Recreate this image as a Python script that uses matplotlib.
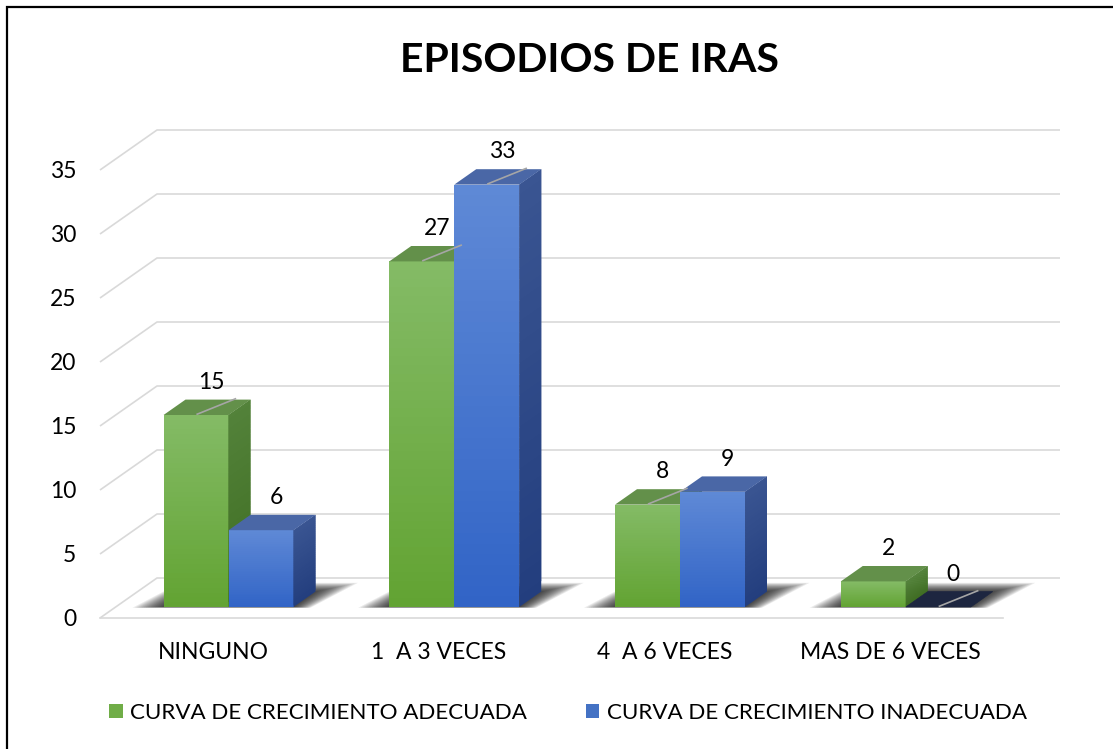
import numpy as np
import matplotlib
matplotlib.use('Agg')
import matplotlib.pyplot as plt
from matplotlib.patches import Polygon, Rectangle, Patch
from matplotlib.colors import to_rgb

# ---------------- data ----------------
categories = ['NINGUNO', '1  A 3 VECES', '4  A 6 VECES', 'MAS DE 6 VECES']
adecuada = [15, 27, 8, 2]
inadecuada = [6, 33, 9, 0]
series_names = ['CURVA DE CRECIMIENTO ADECUADA', 'CURVA DE CRECIMIENTO INADECUADA']
yticks = [0, 5, 10, 15, 20, 25, 30, 35]
title = 'EPISODIOS DE IRAS'

# ---------------- style ----------------
FONT = ['Lato', 'DejaVu Sans']
plt.rcParams['font.family'] = FONT

W, H = 1113, 749
fig = plt.figure(figsize=(W / 100, H / 100), dpi=100)
fig.patch.set_facecolor('white')

# front plane of the 3D box in pixels
L, R, B, T = 100, 1003, 618, 170
ax = fig.add_axes([L / W, 1 - B / H, (R - L) / W, (B - T) / H])
ax.set_xlim(0, len(categories))
ax.set_ylim(0, 35)
ax.set_facecolor('none')
for s in ax.spines.values():
    s.set_visible(False)

pxx = (R - L) / len(categories)   # px per category
pxy = (B - T) / 35.0              # px per value unit
DX = 57 / pxx                     # depth offset (full depth)
DY = 40 / pxy
D0, D1 = 0.275, 0.66              # bar depth span
BW = 65 / pxx                     # bar width (category units)

def P(x, v, d):
    return (x + d * DX, v + d * DY)

grid_c = '#d9d9d9'
for v in yticks:
    ax.plot([0, DX, len(categories) + DX], [v, v + DY, v + DY], color=grid_c,
            lw=1.2, clip_on=False, zorder=1, solid_capstyle='butt')
ax.plot([0, len(categories)], [0, 0], color=grid_c, lw=1.2, clip_on=False, zorder=1)

def mix(c1, c2, t):
    a, b = np.array(to_rgb(c1)), np.array(to_rgb(c2))
    return tuple(a + (b - a) * t)

def grad_strips(corner_fn, h, ctop, cbot, z, n=40):
    step = h / n
    for k in range(n):
        va = step * k
        vb = min(h, step * (k + 2))   # overlap the next strip to hide seams
        col = mix(cbot, ctop, (k + 0.5) / n)
        ax.add_patch(Polygon(corner_fn(va, vb), closed=True, facecolor=col,
                             edgecolor='none', lw=0, clip_on=False, zorder=z))

def draw_bar(xl, xr, h, cols, z):
    ft, fb, st, sb, tp = cols
    if h <= 0:
        ax.add_patch(Polygon([P(xl, 0, D0), P(xr, 0, D0), P(xr, 0, D1), P(xl, 0, D1)],
                             closed=True, facecolor='#1d2640', edgecolor='#1d2640',
                             lw=0.5, clip_on=False, zorder=z))
        return
    grad_strips(lambda a, b: [P(xl, a, D0), P(xr, a, D0), P(xr, b, D0), P(xl, b, D0)],
                h, ft, fb, z)
    grad_strips(lambda a, b: [P(xr, a, D0), P(xr, a, D1), P(xr, b, D1), P(xr, b, D0)],
                h, st, sb, z)
    ax.add_patch(Polygon([P(xl, h, D0), P(xr, h, D0), P(xr, h, D1), P(xl, h, D1)],
                         closed=True, facecolor=tp, edgecolor='none',
                         clip_on=False, zorder=z))

def draw_shadow(xl, xr, z):
    n = 14
    ex_max = 30 / pxx
    for k in range(n):
        f = 1 - k / n
        ex = ex_max * f
        db = 0.22 * f
        ax.add_patch(Polygon([P(xl - ex, 0, D0 - 0.02 * f), P(xr + ex * 0.6, 0, D0 - 0.02 * f),
                              P(xr + ex, 0, D1 + db), P(xl - ex * 0.6, 0, D1 + db)],
                             closed=True, facecolor='black', edgecolor='none',
                             alpha=0.08, clip_on=False, zorder=z))

green_cols = ('#84bb66', '#62a332', '#53823a', '#3f6e22', '#63904a')
blue_cols = ('#5f89d6', '#3164c6', '#3a5592', '#233e7e', '#4a67a6')

leader_a = [True, True, True, False]
leader_b = [False, True, False, True]

for i, cat in enumerate(categories):
    c = i + 0.5
    draw_shadow(c - BW, c + BW, 2)
    for j, (vals, cols, lead) in enumerate([(adecuada, green_cols, leader_a),
                                             (inadecuada, blue_cols, leader_b)]):
        xl = c - BW + j * BW
        xr = xl + BW
        h = vals[i]
        draw_bar(xl, xr, h, cols, 3 + j)
        xc = (xl + xr) / 2
        if lead[i]:
            p0, p1 = P(xc, h, D0 + 0.02), P(xc + 0.25 * BW, h, D1 + 0.02)
            ax.plot([p0[0], p1[0]], [p0[1], p1[1]], color='#a6a6a6', lw=1.2,
                    clip_on=False, zorder=6)
        lx, ly = P(xc, h, (D0 + D1) / 2)
        ax.text(lx + 4 / pxx, ly + 25 / pxy, str(h), ha='center', va='center',
                fontsize=16.5, color='#000000', zorder=7)

# ticks
ax.set_yticks(yticks)
ax.set_yticklabels([str(v) for v in yticks])
ax.set_xticks([i + 0.5 for i in range(len(categories))])
ax.set_xticklabels(categories)
ax.tick_params(axis='y', length=0, pad=17, labelsize=16.5, labelcolor='#000000')
ax.tick_params(axis='x', length=0, pad=17, labelsize=16.5, labelcolor='#000000')

# title
fig.text(589 / W, 1 - 60 / H, title, ha='center', va='center', fontsize=29.5,
         fontweight='bold', color='#000000')

# legend
handles = [Patch(facecolor='#70ad47', edgecolor='none'),
           Patch(facecolor='#4472c4', edgecolor='none')]
fig.legend(handles, series_names, loc='center', bbox_to_anchor=(568 / W, 1 - 713 / H),
           ncol=2, frameon=False, fontsize=16.1, handlelength=0.62, handleheight=0.62,
           handletextpad=0.35, columnspacing=2.6, borderaxespad=0, borderpad=0)

# outer border (extends past the right and bottom edges)
fig.patches.append(Rectangle((7 / W, -0.1), 1.2, 1.1 - 7 / H, transform=fig.transFigure,
                             fill=False, edgecolor='black', lw=1.6, zorder=10))

fig.savefig('out.png', dpi=100, facecolor='white')
